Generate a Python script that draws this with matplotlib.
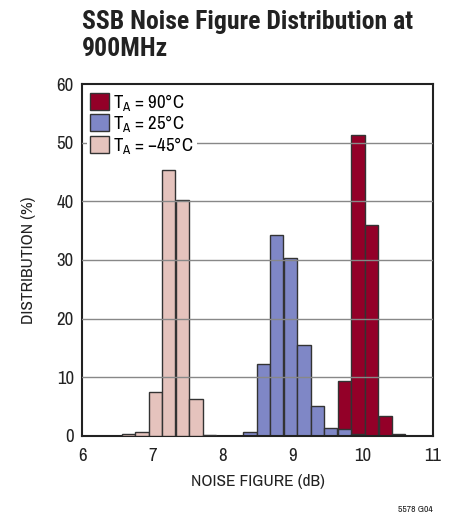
import matplotlib
matplotlib.use("Agg")
import matplotlib.pyplot as plt
from matplotlib.patches import Patch

# Data (bin centers in dB, distribution in %)
nf_90 = [9.74, 9.93, 10.12, 10.32, 10.51]
dist_90 = [9.4, 51.3, 35.9, 3.4, 0.3]

nf_25 = [8.39, 8.58, 8.77, 8.97, 9.16, 9.35, 9.54, 9.74, 9.93]
dist_25 = [0.6, 12.3, 34.3, 30.3, 15.5, 5.0, 1.3, 1.1, 0.3]

nf_m45 = [6.66, 6.85, 7.04, 7.23, 7.43, 7.62, 7.81]
dist_m45 = [0.3, 0.7, 7.5, 45.4, 40.2, 6.3, 0.2]

bin_width = 0.1925
labels = ["$\\mathregular{T_A}$ = 90°C", "$\\mathregular{T_A}$ = 25°C", "$\\mathregular{T_A}$ = \u221245°C"]
colors = ["#930028", "#7F87C6", "#E5C3BD"]

xticks = [6, 7, 8, 9, 10, 11]
yticks = [0, 10, 20, 30, 40, 50, 60]

FONT = ["Archivo Narrow", "Liberation Sans", "DejaVu Sans"]
TITLE_FONT = ["Roboto Condensed", "Fira Sans Condensed", "Liberation Sans", "DejaVu Sans"]
plt.rcParams["font.family"] = FONT

fig = plt.figure(figsize=(4.56, 5.2), dpi=100)
ax = fig.add_axes([0.1805, 0.1621, 0.7691, 0.6758])

edge = "#333333"
ax.bar(nf_90, dist_90, width=bin_width, color=colors[0], edgecolor=edge, linewidth=1.0, zorder=1)
ax.bar(nf_25, dist_25, width=bin_width, color=colors[1], edgecolor=edge, linewidth=1.0, zorder=2)
ax.bar(nf_m45, dist_m45, width=bin_width, color=colors[2], edgecolor=edge, linewidth=1.0, zorder=3)

ax.set_xlim(6, 11)
ax.set_ylim(0, 60)
ax.set_xticks(xticks)
ax.set_yticks(yticks)
ax.tick_params(length=0, labelsize=13.5, colors="#222222")
ax.tick_params(axis="x", pad=9)
ax.tick_params(axis="y", pad=6)
for y in yticks[1:-1]:
    ax.axhline(y, color="#888888", linewidth=1.0, zorder=4)

for s in ax.spines.values():
    s.set_linewidth(1.5)
    s.set_color("#222222")

ax.set_xlabel("NOISE FIGURE (dB)", fontsize=12.5, color="#222222", labelpad=7)
ax.set_ylabel("DISTRIBUTION (%)", fontsize=12.5, color="#222222", labelpad=15)

handles = [Patch(facecolor=c, edgecolor=edge, linewidth=1.0) for c in colors]
leg = ax.legend(handles, labels, loc="upper left", fontsize=13.5, frameon=True,
                fancybox=False, framealpha=1, edgecolor="none", facecolor="white",
                handlelength=1.0, handleheight=1.0, handletextpad=0.25,
                labelspacing=0.02, borderpad=0.15, borderaxespad=0.25)
leg.set_zorder(10)

fig.text(0.179, 0.981, "SSB Noise Figure Distribution at\n900MHz", fontsize=18.5,
         fontweight="bold", va="top", ha="left", color="#222222", linespacing=1.15,
         family=TITLE_FONT)
fig.text(0.95, 0.012, "5578 G04", fontsize=7, ha="right", va="bottom", color="#222222")

fig.savefig("out.png", dpi=100)
